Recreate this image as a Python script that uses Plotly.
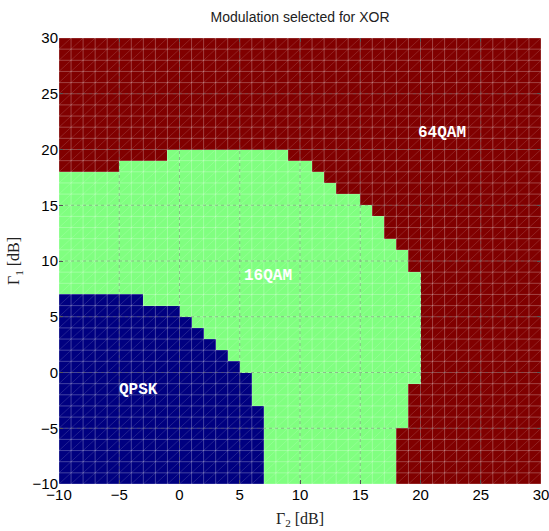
import plotly.graph_objects as go

# Grid of SNR values (cell edges, dB)
x_edges = list(range(-10, 31))   # Gamma_2
y_edges = list(range(-10, 31))   # Gamma_1

# Region boundaries per row; row i covers Gamma_1 in [y_edges[i], y_edges[i+1]]
# QPSK occupies Gamma_2 < qpsk_right[i]  (rows -10 .. 6)
qpsk_right = [7, 7, 7, 7, 7, 7, 7, 6, 6, 6, 5, 4, 3, 2, 1, 0, -3]
# 16QAM occupies qam16_left[i] <= Gamma_2 < qam16_right[i]  (rows -10 .. 19)
qam16_right = [18, 18, 18, 18, 18, 19, 19, 19, 19, 20,
               20, 20, 20, 20, 20, 20, 20, 20, 20, 19,
               19, 18, 17, 17, 16, 15, 13, 12, 11, 9]
qam16_left = [-10, -10, -10, -10, -10, -10, -10, -10, -10, -10,
              -10, -10, -10, -10, -10, -10, -10, -10, -10, -10,
              -10, -10, -10, -10, -10, -10, -10, -10, -5, -1]

mod_names = ["QPSK", "16QAM", "64QAM"]
mod_colors = ["#000080", "#80ff80", "#800000"]
label_x = [-5.15, 5.2, 19.6]
label_y = [-1.6, 8.7, 21.5]

# Modulation index for every cell
z = []
for i in range(len(y_edges) - 1):
    row = []
    for j in range(len(x_edges) - 1):
        x = x_edges[j]
        if i < len(qpsk_right) and x < qpsk_right[i]:
            row.append(0)
        elif i < len(qam16_right) and qam16_left[i] <= x < qam16_right[i]:
            row.append(1)
        else:
            row.append(2)
    z.append(row)

colorscale = [
    [0.0, mod_colors[0]], [1 / 3, mod_colors[0]],
    [1 / 3, mod_colors[1]], [2 / 3, mod_colors[1]],
    [2 / 3, mod_colors[2]], [1.0, mod_colors[2]],
]

fig = go.Figure()
fig.add_trace(go.Heatmap(
    x=x_edges, y=y_edges, z=z,
    zmin=-0.5, zmax=2.5,
    colorscale=colorscale, showscale=False,
    hoverinfo="skip",
))

xmin, xmax = x_edges[0], x_edges[-1]
ymin, ymax = y_edges[0], y_edges[-1]

# Faceted surface edges
ex, ey = [], []
for xv in x_edges:
    ex += [xv, xv, None]
    ey += [ymin, ymax, None]
for yv in y_edges:
    ex += [xmin, xmax, None]
    ey += [yv, yv, None]
fig.add_trace(go.Scatter(
    x=ex, y=ey, mode="lines",
    line=dict(color="rgba(255,255,255,0.26)", width=1),
    hoverinfo="skip", showlegend=False,
))

# Facet diagonals
dx, dy = [], []
for k in range(ymin - xmax, ymax - xmin + 1):
    dx += [xmin, xmax, None]
    dy += [xmin + k, xmax + k, None]
fig.add_trace(go.Scatter(
    x=dx, y=dy, mode="lines",
    line=dict(color="rgba(255,255,255,0.17)", width=0.8),
    hoverinfo="skip", showlegend=False,
))

# Dotted major grid
major = list(range(-5, 30, 5))
gx, gy = [], []
for v in major:
    gx += [v, v, None]
    gy += [ymin, ymax, None]
    gx += [xmin, xmax, None]
    gy += [v, v, None]
fig.add_trace(go.Scatter(
    x=gx, y=gy, mode="lines",
    line=dict(color="rgba(90,90,90,0.4)", width=1, dash="dot"),
    hoverinfo="skip", showlegend=False,
))

for name, lx, ly in zip(mod_names, label_x, label_y):
    fig.add_annotation(
        x=lx, y=ly, text="<b>" + name + "</b>", showarrow=False,
        xanchor="left", yanchor="middle",
        font=dict(family="Liberation Mono", size=16, color="white"),
    )

axis_common = dict(
    range=[-10, 30], tick0=-10, dtick=5,
    ticks="inside", ticklen=4, tickcolor="#555", mirror="ticks",
    showgrid=False, zeroline=False, showline=False, automargin=False,
    ticklabeloverflow="allow",
    tickfont=dict(family="Liberation Sans", size=15, color="black"),
)

fig.update_layout(
    width=549, height=531,
    margin=dict(l=59, r=8, t=38, b=47),
    paper_bgcolor="white", plot_bgcolor="white",
    title=dict(
        text="Modulation selected for XOR",
        x=0.5465, xanchor="center", y=0.968, yanchor="middle",
        font=dict(family="Liberation Sans", size=14, color="#222"),
    ),
    xaxis=dict(
        **axis_common,
        title=dict(text="Γ<sub>2</sub> [dB]", standoff=10,
                   font=dict(family="Liberation Serif", size=16, color="#222")),
    ),
    yaxis=dict(
        **axis_common,
        title=dict(text="Γ<sub>1</sub> [dB]", standoff=8,
                   font=dict(family="Liberation Serif", size=16, color="#222")),
    ),
    showlegend=False,
)

fig.write_html("out.html")
